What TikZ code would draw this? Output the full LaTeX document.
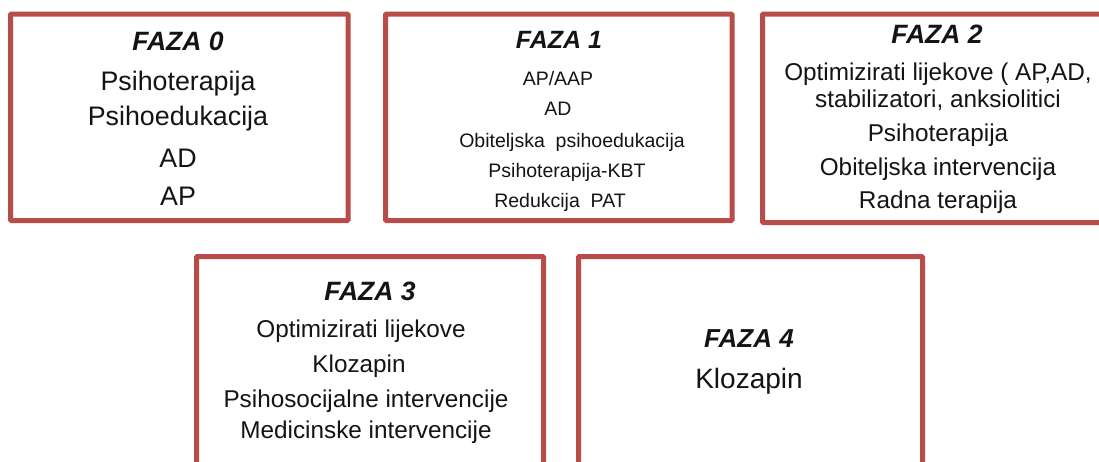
\documentclass[tikz,border=0pt]{standalone}
\usepackage{fontspec}
\setmainfont{Liberation Sans}
\definecolor{boxred}{RGB}{184,76,73}
\definecolor{txt}{RGB}{20,20,20}
\tikzset{
  phasebox/.style={draw=boxred, line width=5pt, rounded corners=1pt, fill=none, inner sep=0pt},
  ttl/.style={anchor=base, inner sep=0pt, text=txt, font=\fontsize{#1}{#1}\selectfont\bfseries\itshape},
  itm/.style={anchor=base, inner sep=0pt, text=txt, font=\fontsize{#1}{#1}\selectfont},
}
\begin{document}
\begin{tikzpicture}[x=1pt,y=-1pt]
\clip (0,0) rectangle (1099,461);
\fill[white] (0,0) rectangle (1099,461);

% boxes
\node[phasebox, minimum width=337.5pt, minimum height=206.5pt] (b0) at (179.25,117.25) {};
\node[phasebox, minimum width=346.5pt, minimum height=206.5pt] (b1) at (558.75,117.25) {};
\node[phasebox, minimum width=352.5pt, minimum height=208.5pt] (b2) at (938.75,118.25) {};
\node[phasebox, minimum width=347pt, minimum height=223.5pt] (b3) at (370,368.25) {};
\node[phasebox, minimum width=344pt, minimum height=223.5pt] (b4) at (750.5,368.25) {};

% FAZA 0
\node[ttl=26.5] (t0) at (178,50) {FAZA 0};
\node[itm=26.8] (t0a) at (178,90) {Psihoterapija};
\node[itm=26.8] (t0b) at (178,125) {Psihoedukacija};
\node[itm=26.8] (t0c) at (178,167) {AD};
\node[itm=26.8] (t0d) at (178,205) {AP};

% FAZA 1
\node[ttl=25] (t1) at (559,48) {FAZA 1};
\node[itm=19.5] (t1a) at (558,85) {AP/AAP};
\node[itm=19.5] (t1b) at (558,115) {AD};
\node[itm=19.5] (t1c) at (572,147) {Obiteljska\ \ psihoedukacija};
\node[itm=19.5] (t1d) at (567,177) {Psihoterapija-KBT};
\node[itm=19.5] (t1e) at (560,207) {Redukcija\ \ PAT};

% FAZA 2
\node[ttl=26.5] (t2) at (937,43) {FAZA 2};
\node[itm=24.3] (t2a) at (938,80) {Optimizirati lijekove ( AP,AD,};
\node[itm=24.3] (t2b) at (938,107) {stabilizatori, anksiolitici};
\node[itm=24.3] (t2c) at (938,141.5) {Psihoterapija};
\node[itm=24.3] (t2d) at (938,175.5) {Obiteljska intervencija};
\node[itm=24.3] (t2e) at (938,208.5) {Radna terapija};

% FAZA 3
\node[ttl=26.5] (t3) at (370,300) {FAZA 3};
\node[itm=24.3] (t3a) at (361,337) {Optimizirati lijekove};
\node[itm=24.3] (t3b) at (359,372) {Klozapin};
\node[itm=24.3] (t3c) at (366,407) {Psihosocijalne intervencije};
\node[itm=24.3] (t3d) at (366,438) {Medicinske intervencije};

% FAZA 4
\node[ttl=26] (t4) at (749,347) {FAZA 4};
\node[itm=28] (t4a) at (749,388) {Klozapin};
\end{tikzpicture}
\end{document}
